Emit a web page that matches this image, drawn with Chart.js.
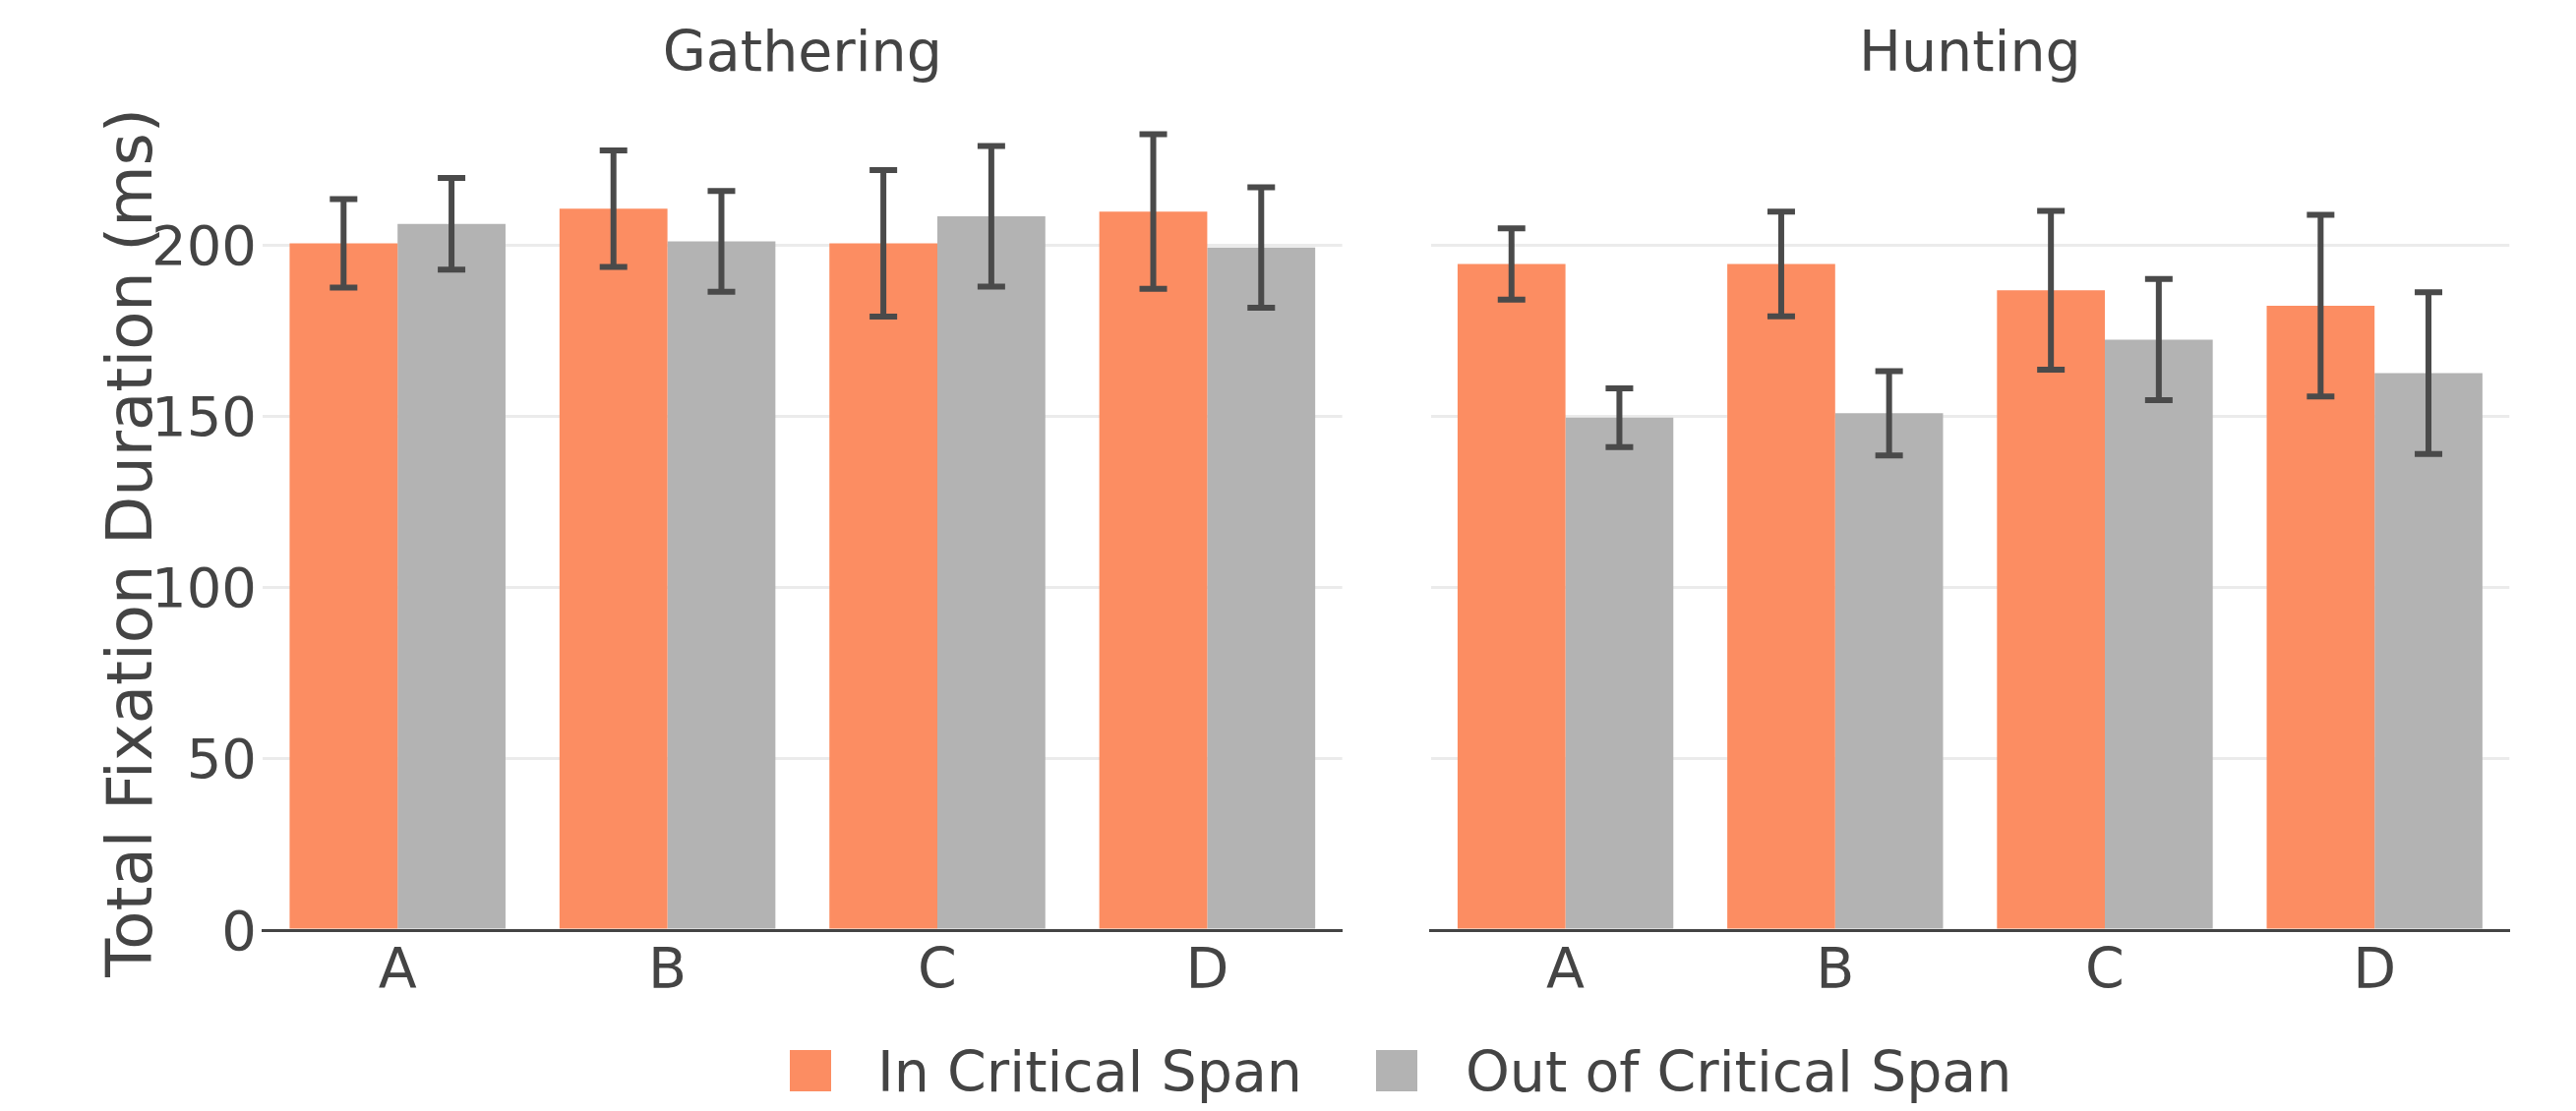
<!DOCTYPE html>
<html>
<head>
<meta charset="utf-8">
<title>Total Fixation Duration</title>
<script src="https://cdn.jsdelivr.net/npm/chart.js@4/dist/chart.umd.min.js"></script>
<style>
  html, body { margin: 0; padding: 0; background: #fff; }
  #wrap { position: relative; width: 2619px; height: 1130px; overflow: hidden; font-family: "DejaVu Sans", sans-serif; }
  #wrap canvas { position: absolute; top: 0; }
  #cLeft { left: 0; }
  #cRight { left: 1400px; }
  .swatch { position: absolute; top: 1068px; width: 42px; height: 42px; }
  .ltext { position: absolute; top: 1062px; font-size: 57px; line-height: 57px; color: #444; white-space: nowrap; }
</style>
</head>
<body>
<div id="wrap">
  <canvas id="cLeft" width="1400" height="1130"></canvas>
  <canvas id="cRight" width="1219" height="1130"></canvas>
  <div id="legend"></div>
</div>
<script>
// ---- data ----
const categories = ['A', 'B', 'C', 'D'];
const panelTitles = ['Gathering', 'Hunting'];
const seriesNames = ['In Critical Span', 'Out of Critical Span'];
const yTickValues = [0, 50, 100, 150, 200];

const gatheringIn     = [200.5, 210.6, 200.5, 209.8];
const gatheringInErr  = [12.9, 17.0, 21.4, 22.6];
const gatheringOut    = [206.2, 201.1, 208.4, 199.3];
const gatheringOutErr = [13.4, 14.7, 20.5, 17.6];

const huntingIn     = [194.5, 194.5, 186.8, 182.3];
const huntingInErr  = [10.4, 15.3, 23.2, 26.5];
const huntingOut    = [149.6, 150.9, 172.4, 162.6];
const huntingOutErr = [8.6, 12.3, 17.7, 23.6];

// ---- style ----
const seriesColors = ['#fc8d62', '#b3b3b3'];
const textColor = '#444';
const FONT = 'DejaVu Sans';
const Y_MAX = 226.2;

Chart.defaults.font.family = FONT;
Chart.defaults.color = textColor;

// symmetric error bars drawn on top of each bar
const errorBars = {
  id: 'errorBars',
  afterDatasetsDraw(chart) {
    const ctx = chart.ctx;
    const yScale = chart.scales.y;
    ctx.save();
    ctx.strokeStyle = '#4a4a4a';
    ctx.lineWidth = 6;
    ctx.lineCap = 'butt';
    chart.data.datasets.forEach((ds, i) => {
      const meta = chart.getDatasetMeta(i);
      meta.data.forEach((bar, j) => {
        const v = ds.data[j], e = ds.errors[j];
        const yTop = yScale.getPixelForValue(v + e);
        const yBot = yScale.getPixelForValue(v - e);
        const half = 14;
        ctx.beginPath();
        ctx.moveTo(bar.x, yTop); ctx.lineTo(bar.x, yBot);
        ctx.moveTo(bar.x - half, yTop); ctx.lineTo(bar.x + half, yTop);
        ctx.moveTo(bar.x - half, yBot); ctx.lineTo(bar.x + half, yBot);
        ctx.stroke();
      });
    });
    ctx.restore();
  }
};

function makePanel(canvasId, title, inVals, inErr, outVals, outErr, showYAxis, padding) {
  return new Chart(document.getElementById(canvasId), {
    type: 'bar',
    data: {
      labels: categories,
      datasets: [
        { label: seriesNames[0], data: inVals, errors: inErr, backgroundColor: seriesColors[0], borderWidth: 0 },
        { label: seriesNames[1], data: outVals, errors: outErr, backgroundColor: seriesColors[1], borderWidth: 0 }
      ]
    },
    options: {
      responsive: false,
      animation: false,
      devicePixelRatio: 1,
      events: [],
      layout: { padding: padding },
      datasets: { bar: { categoryPercentage: 0.8, barPercentage: 1.0 } },
      plugins: {
        legend: { display: false },
        tooltip: { enabled: false },
        title: {
          display: true,
          text: title,
          fullSize: false,
          color: textColor,
          font: { family: FONT, size: 57, weight: 'normal' },
          padding: { top: 23, bottom: 66.6 }
        }
      },
      scales: {
        x: {
          grid: { display: false, drawTicks: false },
          border: { display: true, color: '#444', width: 3 },
          ticks: { color: textColor, font: { family: FONT, size: 57 }, padding: 10, maxRotation: 0 },
          afterFit: s => { s.height = 184; }
        },
        y: {
          min: 0,
          max: Y_MAX,
          afterBuildTicks: s => { s.ticks = yTickValues.map(v => ({ value: v })); },
          grid: {
            drawTicks: false,
            lineWidth: 3,
            color: c => (c.tick && c.tick.value === 0) ? 'rgba(0,0,0,0)' : '#ebebeb'
          },
          border: { display: false },
          ticks: { display: showYAxis, color: textColor, font: { family: FONT, size: 56 }, padding: 6, labelOffset: 5 },
          title: {
            display: showYAxis,
            text: 'Total Fixation Duration (ms)',
            color: textColor,
            font: { family: FONT, size: 64, weight: 'normal' },
            padding: { top: 99, bottom: 0 }
          },
          afterFit: s => { s.width = showYAxis ? 267 : 0; }
        }
      }
    },
    plugins: [errorBars]
  });
}

makePanel('cLeft', panelTitles[0], gatheringIn, gatheringInErr, gatheringOut, gatheringOutErr, true,
  { left: 0, right: 35.4, top: 0, bottom: 0 });
makePanel('cRight', panelTitles[1], huntingIn, huntingInErr, huntingOut, huntingOutErr, false,
  { left: 54.5, right: 67.7, top: 0, bottom: 0 });

// shared legend below both panels
const legendSlots = [{ sw: 803, tx: 892 }, { sw: 1399, tx: 1490 }];
const legend = document.getElementById('legend');
seriesNames.forEach((name, i) => {
  const sw = document.createElement('div');
  sw.className = 'swatch';
  sw.style.left = legendSlots[i].sw + 'px';
  sw.style.background = seriesColors[i];
  legend.appendChild(sw);
  const tx = document.createElement('div');
  tx.className = 'ltext';
  tx.style.left = legendSlots[i].tx + 'px';
  tx.textContent = name;
  legend.appendChild(tx);
});
</script>
</body>
</html>
